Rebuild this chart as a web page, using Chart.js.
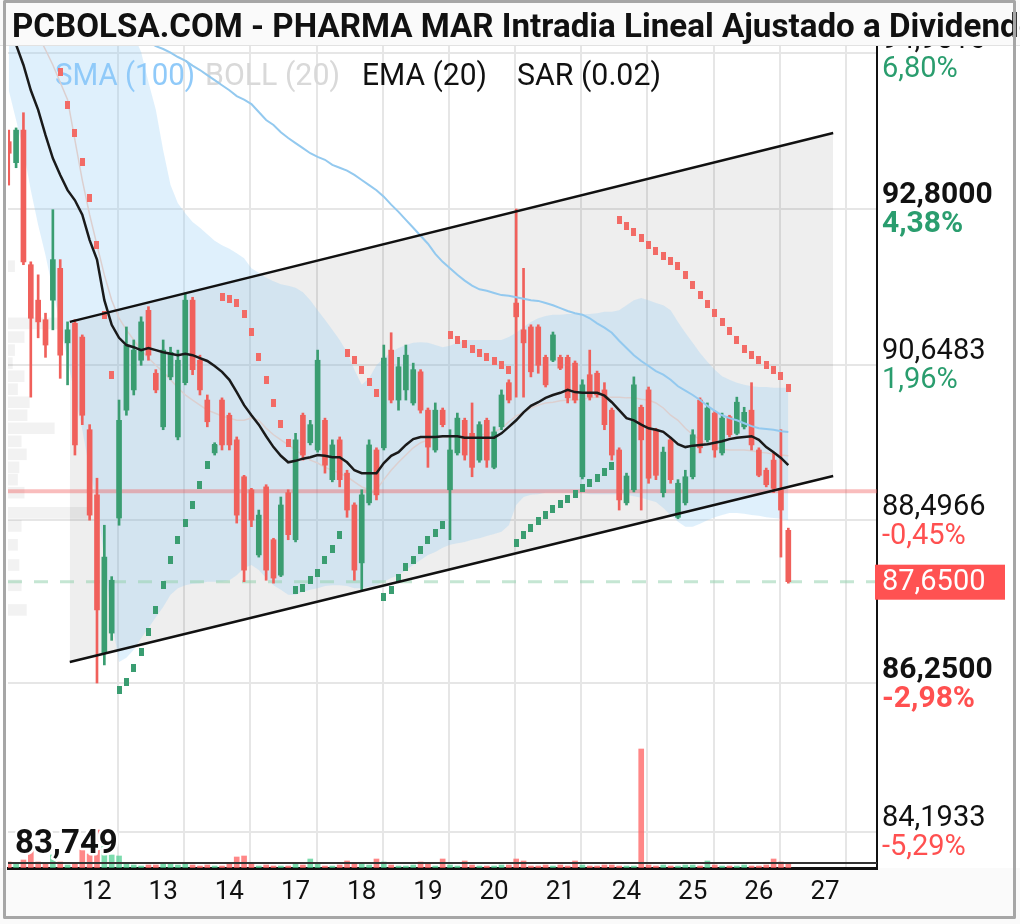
<!DOCTYPE html>
<html>
<head>
<meta charset="utf-8">
<script src="https://cdn.jsdelivr.net/npm/chart.js@4.4.1/dist/chart.umd.min.js"></script>
<style>
  html, body { margin: 0; padding: 0; background: #fff; }
  #wrap { width: 1020px; height: 924px; }
</style>
</head>
<body>
<div id="wrap"><canvas id="chart" width="1020" height="924"></canvas></div>
<script>
// ---- data (hourly bars, index 0 = first bar on the left) ----
const titleText = 'PCBOLSA.COM - PHARMA MAR Intradia Lineal Ajustado a Dividendos';
const dayLabels = ['12', '13', '14', '17', '18', '19', '20', '21', '24', '25', '26', '27'];
const firstDayIndex = 12;
const barsPerDay = 9;

const opens = [93.73,93.44,93.89,92.03,91.54,91.27,91.54,91.98,90.95,91.22,
  91.03,89.75,88.85,86.66,86.94,88.53,90.02,90.30,90.71,91.40,
  90.53,89.79,90.48,89.65,90.40,91.54,90.71,90.16,89.43,90.16,
  89.95,89.61,89.10,88.92,88.02,88.96,88.23,87.74,88.88,88.23,
  89.95,89.57,89.47,89.88,89.06,89.61,89.15,88.71,87.91,88.74,
  89.47,89.50,90.85,90.16,90.30,90.12,90.55,90.02,89.47,90.02,
  88.92,89.43,89.88,89.70,89.33,89.88,89.23,89.79,90.40,91.50,
  91.13,91.17,91.17,90.75,90.71,90.75,90.75,90.67,89.10,90.51,
  90.53,90.30,90.02,89.47,88.74,88.92,90.06,90.30,89.75,88.88,
  89.61,88.54,88.74,89.10,90.16,89.61,89.98,89.43,89.93,89.70,
  89.79,90.02,89.47,89.19,89.33,88.92,88.36];
const highs = [93.89,93.92,94.13,92.07,91.89,91.36,92.79,92.10,91.24,91.27,
  91.06,89.82,89.08,88.43,87.72,90.16,91.17,90.99,91.31,91.45,
  90.58,90.99,90.89,90.85,91.64,91.58,90.78,90.23,89.57,90.19,
  89.98,89.65,89.12,88.94,88.64,88.99,88.25,88.82,88.92,89.70,
  89.98,89.88,90.85,89.91,89.61,89.65,89.19,88.74,88.92,89.61,
  89.50,90.92,91.09,90.75,90.92,90.67,90.58,90.05,90.12,90.05,
  89.75,89.98,89.91,90.12,89.86,89.91,89.79,90.30,90.44,92.80,
  91.98,91.20,91.20,90.78,91.10,90.78,90.78,90.70,90.44,90.85,
  90.56,90.40,90.05,89.50,89.15,90.48,90.09,90.34,89.77,89.51,
  89.64,89.06,89.19,89.75,90.19,90.12,90.01,89.98,89.95,90.20,
  90.06,90.40,89.50,89.22,89.43,89.75,88.39];
const lows = [93.13,93.37,92.03,90.20,91.02,90.75,91.13,90.46,90.37,89.40,
  89.82,88.50,86.25,86.50,86.84,88.43,89.95,90.23,90.64,90.71,
  90.26,89.75,90.44,89.61,90.37,90.51,90.23,89.79,89.40,89.47,
  89.47,88.46,87.65,88.41,87.99,87.67,87.63,87.72,88.23,88.20,
  89.33,89.54,89.44,89.15,89.03,88.96,88.54,87.67,87.54,88.71,
  88.78,89.47,90.12,90.02,90.16,90.09,89.98,89.23,89.44,89.79,
  88.23,89.40,89.33,89.10,89.30,89.23,89.21,89.75,90.12,90.20,
  90.20,90.48,90.53,90.34,90.69,90.58,90.12,90.12,89.07,90.16,
  90.20,89.75,89.33,88.64,88.71,88.89,88.64,89.01,89.06,88.82,
  89.01,88.52,88.71,89.07,89.43,89.58,89.37,89.40,89.65,89.68,
  89.76,89.47,89.10,88.96,88.88,87.99,87.63];
const closes = [93.57,93.89,92.07,91.29,91.24,90.92,92.10,90.78,91.13,89.54,
  89.95,88.57,87.26,87.99,87.67,89.88,90.92,90.85,91.24,90.78,
  90.30,90.85,90.82,90.71,91.54,90.58,90.30,89.86,89.54,89.54,
  89.54,88.57,87.81,88.50,88.57,87.81,87.70,88.71,88.30,89.61,
  89.40,89.82,90.71,89.26,89.54,89.06,88.64,87.81,88.85,89.54,
  88.85,90.74,90.16,90.62,90.78,90.58,90.02,89.51,90.02,89.82,
  89.47,89.91,89.40,89.23,89.82,89.33,89.72,90.23,90.16,91.31,
  90.95,90.55,90.64,90.37,91.06,90.60,90.19,90.16,90.37,90.20,
  90.23,89.82,89.40,88.78,89.11,90.37,89.61,89.08,89.12,89.44,
  89.06,89.01,89.10,89.68,89.50,90.05,89.47,89.91,89.68,90.13,
  89.99,89.54,89.12,88.99,88.94,88.64,87.65];
const volumes = [60,40,80,180,60,50,130,60,30,40,
  200,140,380,220,130,120,40,30,20,30,
  30,40,50,30,40,30,20,30,20,20,
  40,110,120,40,20,30,20,20,20,50,
  30,90,40,20,20,30,70,40,50,30,
  90,60,30,20,20,30,60,40,20,90,
  30,20,70,30,20,20,20,30,30,90,
  70,20,20,30,20,30,20,70,30,20,
  20,30,30,20,20,20,1190,30,20,30,
  20,20,30,30,20,70,30,20,20,20,
  30,20,20,30,90,60,40];

const ema20 = [95.30,95.07,94.79,94.44,94.17,93.82,93.50,93.27,93.06,92.92,
  92.72,92.37,92.10,91.54,91.20,91.02,90.92,90.89,90.85,90.88,
  90.85,90.82,90.80,90.78,90.80,90.78,90.74,90.70,90.63,90.55,
  90.44,90.27,90.09,89.95,89.82,89.66,89.51,89.39,89.30,89.32,
  89.35,89.37,89.40,89.39,89.37,89.37,89.30,89.19,89.15,89.15,
  89.15,89.29,89.39,89.44,89.54,89.62,89.65,89.65,89.65,89.66,
  89.66,89.66,89.64,89.64,89.64,89.64,89.64,89.70,89.79,89.88,
  89.99,90.08,90.13,90.19,90.23,90.26,90.30,90.27,90.26,90.26,
  90.26,90.22,90.13,90.02,89.91,89.88,89.82,89.77,89.75,89.72,
  89.64,89.55,89.51,89.53,89.54,89.55,89.57,89.59,89.62,89.64,
  89.65,89.66,89.61,89.51,89.44,89.36,89.26];
const sma100 = [null,null,null,null,null,null,null,null,null,null,
  null,null,null,null,null,null,95.31,95.25,95.18,95.11,
  95.05,95.01,94.96,94.90,94.85,94.78,94.72,94.65,94.58,94.51,
  94.44,94.36,94.31,94.25,94.14,94.03,93.96,93.86,93.78,93.71,
  93.64,93.57,93.52,93.48,93.41,93.37,93.33,93.27,93.20,93.13,
  93.06,92.97,92.86,92.76,92.65,92.54,92.43,92.32,92.18,92.07,
  91.98,91.89,91.81,91.74,91.69,91.67,91.64,91.61,91.60,91.58,
  91.56,91.54,91.53,91.50,91.47,91.43,91.39,91.36,91.34,91.29,
  91.22,91.16,91.09,90.98,90.88,90.78,90.70,90.63,90.56,90.51,
  90.44,90.35,90.29,90.23,90.16,90.08,90.01,89.95,89.91,89.88,
  89.84,89.80,89.77,89.76,89.75,89.73,89.72];
const bollUpper = [96.52,96.48,96.43,96.38,96.32,96.27,96.21,96.14,96.07,95.99,
  95.90,95.80,95.69,95.62,95.58,95.55,95.38,95.20,94.97,94.55,
  94.17,93.61,93.13,92.88,92.74,92.62,92.54,92.45,92.36,92.30,
  92.25,92.19,92.12,91.98,91.92,91.85,91.80,91.76,91.74,91.71,
  91.65,91.54,91.40,91.27,91.13,90.99,90.82,90.58,90.37,90.46,
  90.64,90.74,90.82,90.88,90.92,90.95,90.96,90.95,90.92,90.89,
  90.91,90.95,90.99,90.99,90.99,90.99,90.99,90.99,91.03,91.09,
  91.17,91.24,91.29,91.32,91.34,91.34,91.35,91.35,91.35,91.35,
  91.36,91.38,91.38,91.40,91.47,91.54,91.57,91.54,91.50,91.47,
  91.40,91.24,91.09,90.95,90.81,90.69,90.58,90.49,90.44,90.40,
  90.37,90.35,90.34,90.34,90.33,90.33,90.33];
const bollMid = [96.03,95.83,95.62,95.41,95.20,95.00,94.79,94.55,94.31,93.75,
  93.20,92.72,92.30,91.89,91.54,91.29,91.13,90.99,90.85,90.74,
  90.64,90.55,90.44,90.33,90.23,90.16,90.09,90.02,89.98,89.94,
  89.91,89.88,89.88,89.91,89.88,89.77,89.68,89.61,89.54,89.47,
  89.40,89.33,89.29,89.23,89.19,89.15,89.10,89.03,88.96,88.92,
  88.92,89.06,89.19,89.30,89.40,89.50,89.57,89.61,89.64,89.65,
  89.65,89.65,89.65,89.66,89.68,89.69,89.72,89.77,89.86,89.94,
  89.99,90.05,90.09,90.12,90.13,90.15,90.16,90.16,90.17,90.19,
  90.20,90.20,90.20,90.20,90.19,90.19,90.17,90.16,90.12,90.05,
  89.95,89.88,89.77,89.68,89.61,89.55,89.51,89.48,89.47,89.47,
  89.47,89.46,89.44,89.43,89.41,89.40,89.39];
const bollLower = [94.44,94.03,93.61,93.06,92.58,92.16,91.68,91.20,90.71,90.23,
  89.75,89.19,88.78,87.95,87.12,86.54,86.60,86.71,86.87,87.01,
  87.16,87.30,87.47,87.56,87.60,87.62,87.63,87.65,87.65,87.65,
  87.67,87.74,87.84,87.88,87.81,87.70,87.60,87.54,87.47,87.47,
  87.51,87.54,87.56,87.59,87.60,87.60,87.59,87.56,87.56,87.58,
  87.60,87.65,87.70,87.74,87.81,87.88,87.95,88.02,88.06,88.12,
  88.16,88.18,88.20,88.23,88.25,88.28,88.31,88.34,88.43,88.71,
  88.82,88.85,88.86,88.88,88.88,88.88,88.88,88.88,88.88,88.86,
  88.86,88.86,88.86,88.86,88.85,88.83,88.81,88.78,88.75,88.67,
  88.57,88.48,88.41,88.41,88.45,88.50,88.54,88.57,88.60,88.60,
  88.59,88.57,88.56,88.54,88.53,88.52,88.50];
const sar = [null,null,null,null,null,null,null,94.69,94.24,93.85,
  93.45,92.95,92.30,91.34,90.51,86.15,86.26,86.46,86.68,86.96,
  87.26,87.60,87.95,88.23,88.46,88.71,88.99,89.26,89.50,91.58,
  91.56,91.50,91.35,91.10,90.75,90.44,90.12,89.83,89.57,87.54,
  87.56,87.67,87.77,87.95,88.10,88.30,90.81,90.71,90.58,90.41,
  90.26,87.44,87.54,87.70,87.85,87.95,88.09,88.23,88.32,88.43,
  91.06,90.99,90.93,90.87,90.81,90.75,90.70,90.64,90.58,88.18,
  88.30,88.39,88.49,88.57,88.65,88.72,88.79,88.86,88.94,89.01,
  89.08,89.17,89.25,92.65,92.57,92.48,92.40,92.30,92.22,92.15,
  92.08,92.01,91.89,91.75,91.61,91.49,91.36,91.24,91.11,90.99,
  90.87,90.78,90.71,90.64,90.58,90.49,90.33];

// regression channel (start / end)
const channelX = [8.3, 112.1];
const channelUpper = [91.24, 93.85];
const channelLower = [86.54, 89.11];

// volume profile on the left (price level, extent in bar units)
const profilePrices = [92.01,91.22,91.03,90.85,90.67,90.49,90.31,90.13,89.95,89.77,89.59,89.41,89.23,89.06,88.88,88.60,88.42,88.16,87.88,87.60,87.26];
const profileSizes = [0.9,7.0,2.2,0.9,0.6,2.2,1.3,2.9,2.6,6.3,1.8,2.5,1.5,1.3,2.2,10.8,1.8,1.3,1.5,1.8,2.5];

const prevClose = 88.90;
const lastPrice = 87.65;
const lowLabel = '83,749';
const yTickValues = [94.9516, 92.8, 90.6483, 88.4966, 86.25, 84.1933];
const yTickText = ['94,9516', '92,8000', '90,6483', '88,4966', '86,2500', '84,1933'];
const yTickPct = ['6,80%', '4,38%', '1,96%', '-0,45%', '-2,98%', '-5,29%'];
const yTickBold = [false, true, false, false, true, false];

const legendItems = [
  { text: 'SMA (100)', color: '#90caf9', x: 55, w: 140 },
  { text: 'BOLL (20)', color: '#d9d9d9', x: 205, w: 135 },
  { text: 'EMA (20)', color: '#111111', x: 362, w: 125 },
  { text: 'SAR (0.02)', color: '#111111', x: 517, w: 144 }
];

// ---- chart ----
const xMin = -0.1, xMax = 118.06;
const yMin = 83.694, yMax = 95.052;
const gridShift = 2.85;
const gridPositions = dayLabels.map((_, k) => firstDayIndex + k * barsPerDay + gridShift);

const UP = '#3a9d71', DOWN = '#f0605b';
const GREEN_TXT = '#2a9d6e', RED_TXT = '#ff5050';
const idx = closes.map((_, i) => i);
const candleColor = idx.map(i => closes[i] >= opens[i] ? UP : DOWN);
const volColor = idx.map(i => closes[i] >= opens[i] ? 'rgba(70,205,140,0.7)' : 'rgba(255,95,95,0.75)');
const series = arr => arr.map((v, i) => ({ x: i, y: v }));

function dotImage(color) {
  const c = document.createElement('canvas');
  c.width = 5; c.height = 8;
  const g = c.getContext('2d');
  g.fillStyle = color;
  g.fillRect(0, 0, 5, 8);
  return c;
}

const sarAbove = idx.map(i => (sar[i] !== null && sar[i] > closes[i]) ? { x: i, y: sar[i] } : { x: i, y: null });
const sarBelow = idx.map(i => (sar[i] !== null && sar[i] <= closes[i]) ? { x: i, y: sar[i] } : { x: i, y: null });

const decorations = {
  id: 'decorations',
  beforeDraw(chart) {
    const ctx = chart.ctx;
    ctx.save();
    ctx.fillStyle = '#ffffff';
    ctx.fillRect(0, 0, chart.width, chart.height);
    ctx.fillStyle = '#fafafa';
    ctx.fillRect(0, chart.chartArea.bottom, chart.width, chart.height - chart.chartArea.bottom);
    ctx.restore();
  },
  beforeDatasetsDraw(chart) {
    // legend sits under the marks
    const ctx = chart.ctx;
    ctx.save();
    ctx.font = '32px Roboto';
    ctx.textBaseline = 'alphabetic';
    legendItems.forEach(it => {
      const sx = it.w / ctx.measureText(it.text).width;
      ctx.save();
      ctx.translate(it.x, 85);
      ctx.scale(sx, 1);
      ctx.fillStyle = it.color;
      ctx.fillText(it.text, 0, 0);
      ctx.restore();
    });
    ctx.restore();
  },
  afterDatasetsDraw(chart) {
    const ctx = chart.ctx, a = chart.chartArea;
    ctx.save();
    ctx.strokeStyle = '#333';
    ctx.lineWidth = 2;
    ctx.beginPath();
    ctx.moveTo(a.left, a.bottom - 5);
    ctx.lineTo(a.right, a.bottom - 5);
    ctx.stroke();
    ctx.restore();
  },
  afterDraw(chart) {
    const ctx = chart.ctx, a = chart.chartArea, ys = chart.scales.y;
    ctx.save();
    // right axis labels
    ctx.textBaseline = 'middle';
    ctx.textAlign = 'left';
    yTickValues.forEach((v, k) => {
      const gy = ys.getPixelForValue(v);
      ctx.font = yTickBold[k] ? 'bold 30px Roboto' : '29px Roboto';
      ctx.fillStyle = '#111';
      ctx.fillText(yTickText[k], a.right + 5, gy - 13);
      ctx.fillStyle = yTickPct[k].startsWith('-') ? RED_TXT : GREEN_TXT;
      ctx.fillText(yTickPct[k], a.right + 5, gy + 16);
    });
    // last price box
    const py = ys.getPixelForValue(lastPrice);
    ctx.fillStyle = '#ff5252';
    ctx.fillRect(a.right - 2, py - 17, 130, 35);
    ctx.fillStyle = '#ffffff';
    ctx.font = '29px Roboto';
    ctx.fillText(lastPrice.toFixed(4).replace('.', ','), a.right + 5, py + 1);
    // lowest value label
    ctx.font = 'bold 33px Roboto';
    ctx.lineWidth = 5;
    ctx.strokeStyle = '#ffffff';
    ctx.lineJoin = 'round';
    ctx.strokeText(lowLabel, a.left + 7, a.bottom - 23);
    ctx.fillStyle = '#111';
    ctx.fillText(lowLabel, a.left + 7, a.bottom - 23);
    // title bar
    ctx.fillStyle = '#fafafa';
    ctx.fillRect(0, 0, chart.width, a.top);
    ctx.fillStyle = '#e2e2e2';
    ctx.fillRect(0, a.top - 1, chart.width, 1);
    ctx.font = 'bold 34px Roboto';
    ctx.textBaseline = 'alphabetic';
    const vis = 'PCBOLSA.COM - PHARMA MAR Intradia Lineal Ajustado a Dividen';
    const sx = 988 / ctx.measureText(vis).width;
    ctx.save();
    ctx.translate(12, 37);
    ctx.scale(sx, 1);
    ctx.fillStyle = '#111';
    ctx.fillText(titleText, 0, 0);
    ctx.restore();
    // frame
    ctx.strokeStyle = '#a6a6a6';
    ctx.lineWidth = 3;
    ctx.strokeRect(4.5, 1.5, 1010, 916);
    ctx.restore();
  }
};

new Chart(document.getElementById('chart'), {
  type: 'bar',
  data: {
    datasets: [
      { type: 'line', data: series(bollUpper), borderWidth: 0, pointRadius: 0, fill: '+1',
        backgroundColor: 'rgba(150,205,245,0.3)', order: -2 },
      { type: 'line', data: series(bollLower), borderWidth: 0, pointRadius: 0, fill: false, order: -2 },
      { type: 'line', data: channelX.map((x, k) => ({ x, y: channelUpper[k] })), borderColor: '#111',
        borderWidth: 2.5, pointRadius: 0, fill: '+1', backgroundColor: 'rgba(0,0,0,0.065)', order: -1 },
      { type: 'line', data: channelX.map((x, k) => ({ x, y: channelLower[k] })), borderColor: '#111',
        borderWidth: 2.5, pointRadius: 0, fill: false, order: -1 },
      { type: 'line', data: sarAbove, showLine: false, pointStyle: dotImage('#f26b66'), order: 12 },
      { type: 'line', data: sarBelow, showLine: false, pointStyle: dotImage('#3a9d71'), order: 12 },
      { type: 'line', data: series(ema20), borderColor: '#1a1a1a', borderWidth: 2.5, pointRadius: 0, order: 13 },
      { type: 'line', data: series(sma100), borderColor: '#93c9ef', borderWidth: 2, pointRadius: 0, order: 14 },
      { type: 'bar', data: idx.map(i => ({ x: i, y: [opens[i], closes[i]] })), backgroundColor: candleColor,
        barThickness: 5, grouped: false, order: 15 },
      { type: 'bar', data: idx.map(i => ({ x: i, y: [lows[i], highs[i]] })), backgroundColor: candleColor,
        barThickness: 2, grouped: false, order: 16 },
      { type: 'line', data: series(bollMid), borderColor: '#dccfcf', borderWidth: 1.5, pointRadius: 0, order: 17 },
      { type: 'line', data: [{ x: xMin, y: prevClose }, { x: xMax, y: prevClose }],
        borderColor: 'rgba(240,90,90,0.4)', borderWidth: 4, pointRadius: 0, order: 18 },
      { type: 'line', data: [{ x: xMin, y: lastPrice }, { x: xMax, y: lastPrice }],
        borderColor: 'rgba(150,210,175,0.55)', borderWidth: 3, borderDash: [14, 12], pointRadius: 0, order: 18 },
      { type: 'bar', data: idx.map(i => ({ x: i, y: volumes[i] })), yAxisID: 'yVol', backgroundColor: volColor,
        barThickness: 5, grouped: false, order: 19 },
      { type: 'bar', indexAxis: 'y', data: profilePrices.map((p, k) => ({ y: p, x: [xMin, xMin + profileSizes[k]] })),
        backgroundColor: 'rgba(0,0,0,0.05)', barThickness: 11, grouped: false, order: 20 }
    ]
  },
  options: {
    responsive: false,
    animation: false,
    devicePixelRatio: 1,
    layout: { padding: { left: 8, top: 46, right: 0, bottom: 0 } },
    plugins: {
      legend: { display: false },
      tooltip: { enabled: false },
      filler: { drawTime: 'beforeDatasetsDraw' }
    },
    scales: {
      x: {
        type: 'linear', position: 'bottom', min: xMin, max: xMax, offset: false,
        afterBuildTicks: s => { s.ticks = gridPositions.map(v => ({ value: v })); },
        afterFit: s => { s.height = 56; },
        grid: { color: '#e6e6e6', lineWidth: 2, drawTicks: false, offset: false },
        border: { display: true, color: '#111', width: 3 },
        ticks: {
          autoSkip: false, maxRotation: 0, padding: 9, labelOffset: -21,
          font: { family: 'Roboto', size: 26 }, color: '#111',
          callback: (v, i) => dayLabels[i]
        }
      },
      y: {
        type: 'linear', position: 'right', min: yMin, max: yMax, offset: false,
        afterBuildTicks: s => { s.ticks = yTickValues.map(v => ({ value: v })); },
        afterFit: s => { s.width = 143; },
        grid: { color: '#e6e6e6', lineWidth: 2, drawTicks: false, offset: false },
        border: { display: true, color: '#111', width: 2 },
        ticks: { display: false }
      },
      yVol: { type: 'linear', display: false, min: 0, max: 8220, offset: false }
    }
  },
  plugins: [decorations]
});
</script>
</body>
</html>
